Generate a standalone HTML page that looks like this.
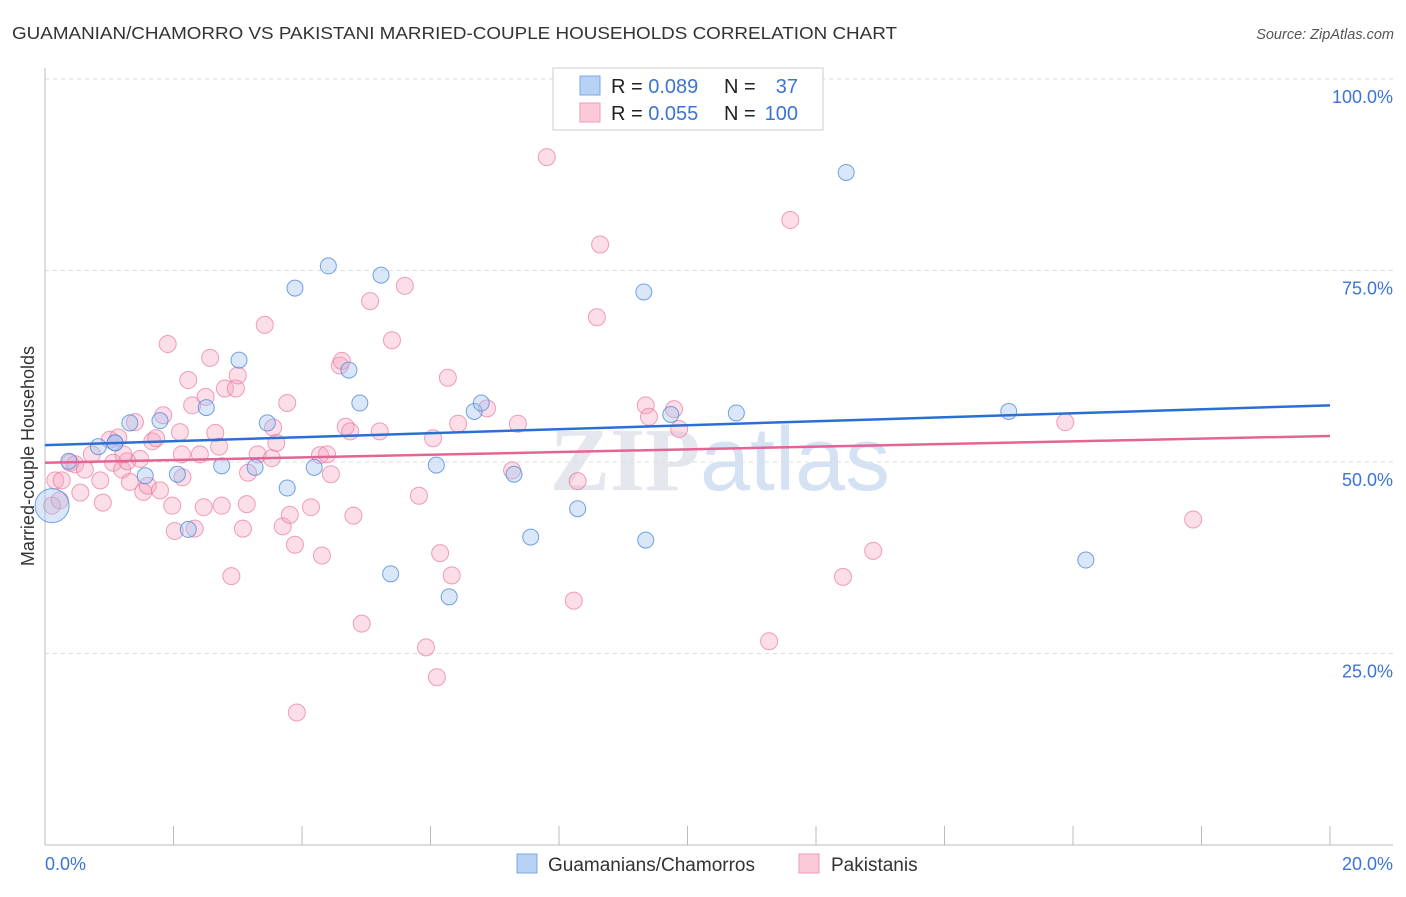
<!DOCTYPE html>
<html><head><meta charset="utf-8">
<style>
html,body{margin:0;padding:0;background:#fff;}
body{width:1406px;height:892px;overflow:hidden;font-family:"Liberation Sans",sans-serif;}
</style></head>
<body>
<svg id="chart" width="1406" height="892" xmlns="http://www.w3.org/2000/svg" font-family="Liberation Sans, sans-serif">
<text x="12" y="39" font-size="17.5" fill="#333" textLength="885" lengthAdjust="spacingAndGlyphs">GUAMANIAN/CHAMORRO VS PAKISTANI MARRIED-COUPLE HOUSEHOLDS CORRELATION CHART</text>
<text x="1394" y="39" font-size="14.5" fill="#555" text-anchor="end" font-style="italic">Source: ZipAtlas.com</text>
<text x="720" y="490" font-size="90" fill="#e4e7ee" text-anchor="middle" font-weight="bold" font-family="Liberation Serif, serif">ZIP<tspan fill="#d4e2f4" font-family="Liberation Sans, sans-serif" font-weight="normal">atlas</tspan></text>
<g id="grid"></g>
<g id="axes"></g>
<g id="pts"></g>
<g id="lines"></g>
<text transform="translate(34,456) rotate(-90)" font-size="18" fill="#333" text-anchor="middle">Married-couple Households</text>
<g>
<rect x="553" y="68" width="270" height="62" fill="#fff" stroke="#ccc"/>
<rect x="580" y="76" width="20" height="19" fill="#b7d2f5" stroke="#7aa7e4"/>
<rect x="580" y="103" width="20" height="19" fill="#fbc9d8" stroke="#f09ab5"/>
<text x="611" y="93" font-size="20" fill="#222">R = <tspan fill="#3b74d4">0.089</tspan></text>
<text x="724" y="93" font-size="20" fill="#222">N =</text>
<text x="798" y="93" font-size="20" fill="#3b74d4" text-anchor="end">37</text>
<text x="611" y="120" font-size="20" fill="#222">R = <tspan fill="#3b74d4">0.055</tspan></text>
<text x="724" y="120" font-size="20" fill="#222">N =</text>
<text x="798" y="120" font-size="20" fill="#3b74d4" text-anchor="end">100</text>
</g>
<g>
<rect x="517" y="854" width="20" height="19" fill="#b7d2f5" stroke="#7aa7e4"/>
<text x="548" y="871" font-size="19" fill="#333">Guamanians/Chamorros</text>
<rect x="799" y="854" width="20" height="19" fill="#fbc9d8" stroke="#f09ab5"/>
<text x="831" y="871" font-size="19" fill="#333">Pakistanis</text>
</g>
</svg>
<script>
const yTicks=[25,50,75,100];
const yTickLabels=["25.0%","50.0%","75.0%","100.0%"];
const xTicks=[0,2,4,6,8,10,12,14,16,18,20];
const xEndLabels=["0.0%","20.0%"];
const blueX=[0.11,0.37,0.83,1.09,1.32,1.56,1.79,2.06,2.23,2.51,2.75,3.02,3.27,3.46,3.77,3.89,4.19,4.41,4.73,4.90,5.23,5.38,6.09,6.29,6.68,6.79,7.30,7.56,8.29,9.32,9.35,9.74,10.76,12.47,15.0,16.2,1.09];
const blueY=[44.3,50.1,52.0,52.5,55.1,48.2,55.4,48.4,41.2,57.1,49.5,63.3,49.3,55.1,46.6,72.7,49.3,75.6,62.0,57.7,74.4,35.4,49.6,32.4,56.6,57.7,48.4,40.2,43.9,72.2,39.8,56.2,56.4,87.8,56.6,37.2,52.5];
const blueR=[17,8,8,8,8,8,8,8,8,8,8,8,8,8,8,8,8,8,8,8,8,8,8,8,8,8,8,8,8,8,8,8,8,8,8,8,8];
const pinkX=[0.11,0.16,0.26,0.39,0.47,0.62,0.73,0.86,0.90,1.01,1.06,1.14,1.20,1.28,1.32,1.40,1.48,1.53,1.60,1.67,1.73,1.79,1.84,1.91,1.98,2.02,2.10,2.13,2.23,2.29,2.33,2.41,2.47,2.57,2.50,2.65,2.71,2.75,2.80,2.90,2.97,3.00,3.08,3.14,3.16,3.31,3.42,3.53,3.60,3.70,3.77,3.81,3.89,3.92,4.14,4.28,4.31,4.39,4.45,4.59,4.62,4.68,4.75,4.93,5.06,5.21,5.40,5.60,5.82,5.93,6.04,6.10,6.15,6.27,6.33,6.43,6.88,7.27,7.36,7.81,8.23,8.29,8.59,8.64,9.35,9.40,9.79,9.87,11.27,11.60,12.42,12.89,15.88,17.87,0.23,0.55,1.22,2.14,3.55,4.80];
const pinkY=[44.3,47.6,47.6,49.9,49.7,49.0,51.0,47.6,44.7,52.9,49.9,53.2,49.0,50.1,47.4,55.2,50.4,46.1,46.9,52.7,53.1,46.3,56.1,65.4,44.3,41.0,53.9,51.0,60.7,57.4,41.3,51.0,44.1,63.6,58.5,53.8,52.0,44.3,59.6,35.1,59.6,61.3,41.3,44.5,48.6,51.0,67.9,50.5,52.5,41.6,57.7,43.1,39.2,17.3,44.1,50.9,37.8,51.0,48.4,62.6,63.2,54.6,54.0,28.9,71.0,54.0,65.9,73.0,45.6,25.8,53.1,21.9,38.1,61.0,35.2,55.0,57.0,48.9,55.0,89.8,31.9,47.5,68.9,78.4,57.4,55.9,56.9,54.3,26.6,81.6,35.0,38.4,55.2,42.5,45.0,46.0,51.0,48.0,54.5,43.0];
const blueTrend=[52.2,57.4];
const pinkTrend=[49.9,53.4];
const NS="http://www.w3.org/2000/svg";
function X(v){return 45+v*(1330-45)/20;}
function Y(v){return 845-v*(845-79)/100;}
function mk(tag,attrs,parent){const e=document.createElementNS(NS,tag);for(const k in attrs)e.setAttribute(k,attrs[k]);document.getElementById(parent).appendChild(e);return e;}
yTicks.forEach((t,i)=>{
  const g=mk('line',{x1:45,x2:1393,y1:Y(t),y2:Y(t),stroke:'#ddd','stroke-dasharray':'4,4'},'grid');
  
  
  const l=mk('text',{x:1393,y:Y(t)+24,'font-size':18,fill:'#3b74d4','text-anchor':'end'},'grid');
  l.textContent=yTickLabels[i];
  
  
});
const ax=mk('line',{x1:45,x2:45,y1:68,y2:845,stroke:'#bbb'},'axes');


const bx=mk('line',{x1:45,x2:1393,y1:845,y2:845,stroke:'#bbb'},'axes');


xTicks.forEach(t=>{
  const k=mk('line',{x1:X(t),x2:X(t),y1:826,y2:845,stroke:'#bbb'},'axes');
  
  
});
const xl0=mk('text',{x:45,y:870,'font-size':18,fill:'#3b74d4'},'axes');
xl0.textContent=xEndLabels[0];


const xl1=mk('text',{x:1393,y:870,'font-size':18,fill:'#3b74d4','text-anchor':'end'},'axes');
xl1.textContent=xEndLabels[1];


pinkX.forEach((v,i)=>{
  const c=mk('circle',{cx:X(v),cy:Y(pinkY[i]),r:8.5,fill:'rgba(246,160,188,0.35)',stroke:'rgba(232,120,160,0.7)','stroke-width':1},'pts');
  
  
});
blueX.forEach((v,i)=>{
  const c=mk('circle',{cx:X(v),cy:Y(blueY[i]),r:blueR[i],fill:'rgba(160,196,240,0.4)',stroke:'rgba(80,140,220,0.8)','stroke-width':1},'pts');
  
  
});
const bl=mk('line',{x1:X(0),x2:X(20),y1:Y(blueTrend[0]),y2:Y(blueTrend[1]),stroke:'#2a6fd6','stroke-width':2.5},'lines');


const pl=mk('line',{x1:X(0),x2:X(20),y1:Y(pinkTrend[0]),y2:Y(pinkTrend[1]),stroke:'#e46594','stroke-width':2.5},'lines');


</script>
</body></html>
